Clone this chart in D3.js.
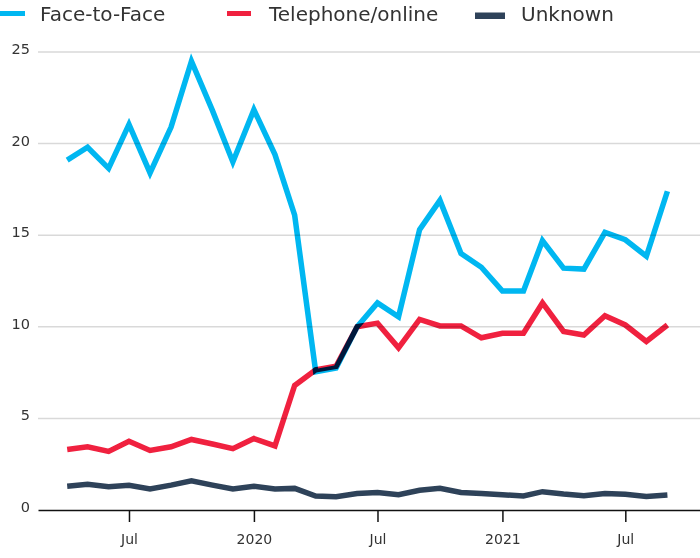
<!DOCTYPE html>
<html>
<head>
<meta charset="utf-8">
<script src="https://cdn.jsdelivr.net/npm/d3@7"></script>
<style>
  body { margin: 0; background: #fff; }
  svg { display: block; font-family: "DejaVu Sans", Verdana, sans-serif; }
</style>
</head>
<body>
<svg id="chart" width="700" height="558"></svg>
<script>
// monthly, Apr 2019 .. Sep 2021
const months = [
  "2019-04", "2019-05", "2019-06", "2019-07", "2019-08", "2019-09",
  "2019-10", "2019-11", "2019-12", "2020-01", "2020-02", "2020-03",
  "2020-04", "2020-05", "2020-06", "2020-07", "2020-08", "2020-09",
  "2020-10", "2020-11", "2020-12", "2021-01", "2021-02", "2021-03",
  "2021-04", "2021-05", "2021-06", "2021-07", "2021-08", "2021-09"
];
const faceToFace = [
  19.1, 19.8, 18.65, 21.05, 18.4, 20.9, 24.5, 21.8, 19.0, 21.85, 19.4, 16.1,
  7.55, 7.75, 10.0, 11.3, 10.55, 15.3, 16.9, 14.0, 13.25, 11.95, 11.95, 14.7,
  13.2, 13.15, 15.15, 14.75, 13.85, 17.4
];
const telephone = [
  3.3, 3.45, 3.2, 3.75, 3.25, 3.45, 3.85, 3.6, 3.35, 3.9, 3.5, 6.8,
  7.65, 7.85, 10.0, 10.2, 8.85, 10.4, 10.05, 10.05, 9.4, 9.65, 9.65, 11.3,
  9.75, 9.55, 10.6, 10.1, 9.2, 10.1
];
const unknown = [
  1.3, 1.4, 1.27, 1.35, 1.15, 1.36, 1.6, 1.36, 1.15, 1.3, 1.15, 1.18,
  0.76, 0.73, 0.9, 0.96, 0.83, 1.08, 1.18, 0.96, 0.9, 0.83, 0.77, 1.0,
  0.87, 0.78, 0.9, 0.86, 0.74, 0.82
];
const seriesNames = ["Face-to-Face", "Telephone/online", "Unknown"];
const colors = ["#00b7f1", "#f0213f", "#2e4259"];
const yTicks = [0, 5, 10, 15, 20, 25];

const svg = d3.select("#chart");
const parse = d3.timeParse("%Y-%m");
const dates = months.map(parse);

const x = d3.scaleTime()
  .domain([new Date(2019, 1, 17), new Date(2021, 9, 19)])
  .range([38, 700]);
const y = d3.scaleLinear().domain([0, 25]).range([510, 52]);

// grid
svg.append("g")
  .selectAll("line")
  .data(yTicks.filter(d => d > 0))
  .join("line")
  .attr("x1", 38).attr("x2", 700)
  .attr("y1", d => y(d)).attr("y2", d => y(d))
  .attr("stroke", "#d9d9d9")
  .attr("stroke-width", 1.5);

// y labels
svg.append("g")
  .selectAll("text")
  .data(yTicks)
  .join("text")
  .attr("x", 30)
  .attr("y", d => y(d) + 2)
  .attr("text-anchor", "end")
  .attr("font-size", 14.5)
  .attr("fill", "#333")
  .text(d => d);

// x axis
const xAxis = d3.axisBottom(x)
  .tickValues([new Date(2019, 6, 1), new Date(2020, 0, 1), new Date(2020, 6, 1), new Date(2021, 0, 1), new Date(2021, 6, 1)])
  .tickFormat(d => d.getMonth() === 0 ? d3.timeFormat("%Y")(d) : d3.timeFormat("%b")(d))
  .tickSize(12)
  .tickSizeOuter(0)
  .tickPadding(12);

const gx = svg.append("g")
  .attr("transform", "translate(0,510)")
  .call(xAxis);
gx.select(".domain").attr("stroke", "#111").attr("stroke-width", 1.5);
gx.selectAll(".tick line").attr("stroke", "#111").attr("stroke-width", 1.5);
gx.selectAll(".tick text")
  .attr("font-size", 14)
  .attr("font-family", "DejaVu Sans, Verdana, sans-serif")
  .attr("fill", "#333");

// lines
const line = d3.line()
  .x((d, i) => x(dates[i]))
  .y(d => y(d));

svg.append("g")
  .selectAll("path")
  .data([faceToFace, telephone, unknown])
  .join("path")
  .attr("d", d => line(d))
  .attr("fill", "none")
  .attr("stroke", (d, i) => colors[i])
  .attr("stroke-width", 5.5)
  .style("mix-blend-mode", "multiply");

// legend
const legX = [-5, 227, 475];
const legW = [30, 24, 30];
const leg = svg.append("g")
  .selectAll("g")
  .data(seriesNames)
  .join("g")
  .attr("transform", (d, i) => `translate(${legX[i]},0)`);
leg.append("rect")
  .attr("x", 0)
  .attr("y", (d, i) => i === 2 ? 12.5 : 11)
  .attr("width", (d, i) => legW[i])
  .attr("height", (d, i) => i === 2 ? 6.5 : 5)
  .attr("fill", (d, i) => colors[i]);
leg.append("text")
  .attr("x", (d, i) => [45, 42, 46][i])
  .attr("y", 21)
  .attr("font-size", 20)
  .attr("fill", "#333")
  .text(d => d);
</script>
</body>
</html>
